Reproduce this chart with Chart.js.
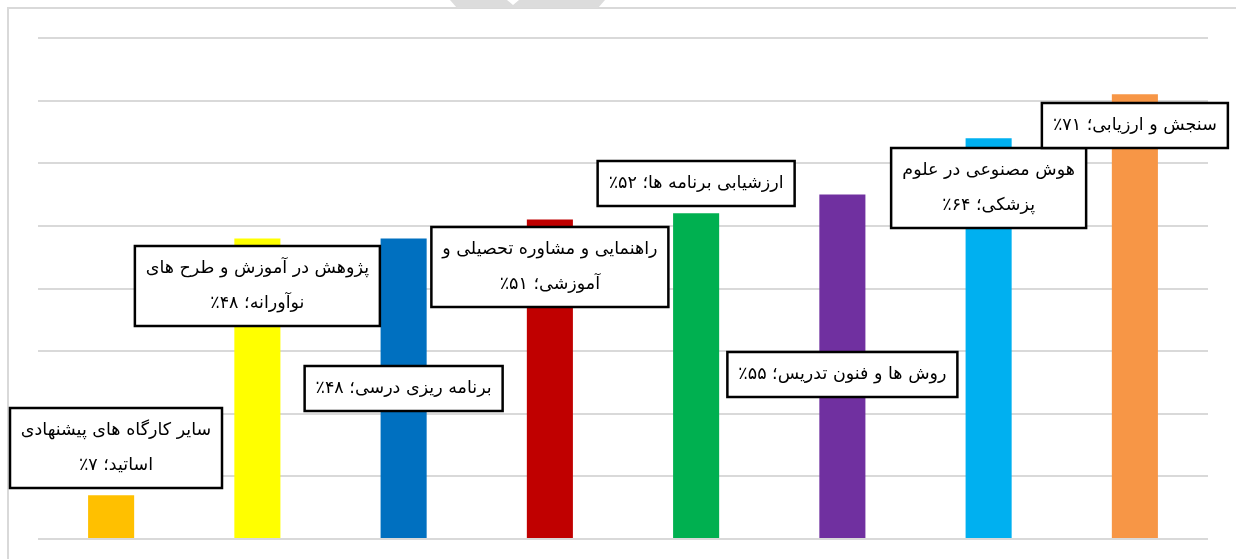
<!DOCTYPE html>
<html lang="fa">
<head>
<meta charset="utf-8">
<script src="https://cdn.jsdelivr.net/npm/chart.js@4.4.1/dist/chart.umd.min.js"></script>
<style>
    html, body { margin: 0; padding: 0; background: #fff; }
    #wrap { position: relative; width: 1236px; height: 559px; }
    /* قاب خاکستری دور نمودار */
    #frame { position: absolute; left: 7px; top: 7px; right: -4px; bottom: -4px; border: 2px solid #d9d9d9; }
    /* زبانه خاکستری بالای صفحه */
    #tab { position: absolute; left: 450px; top: 0; width: 155px; height: 8px; background: #dcdcdc;
           clip-path: polygon(0 0, 57px 0, 63px 5px, 69px 0, 155px 0, 148px 8px, 7px 8px); }
    canvas { position: absolute; left: 0; top: 0; }
</style>
</head>
<body>
<div id="wrap">
    <div id="frame"></div>
    <div id="tab"></div>
    <canvas id="myChart" width="1236" height="559"></canvas>
</div>
<script>
/*---------------------------------------------------------------*/
/*----------------------------- data ----------------------------*/
/*---------------------------------------------------------------*/
// نام کارگاه ها (هر خط برچسب یک عضو)
const categories = [
    ['سایر کارگاه های پیشنهادی', 'اساتید'],
    ['پژوهش در آموزش و طرح های', 'نوآورانه'],
    ['برنامه ریزی درسی'],
    ['راهنمایی و مشاوره تحصیلی و', 'آموزشی'],
    ['ارزشیابی برنامه ها'],
    ['روش ها و فنون تدریس'],
    ['هوش مصنوعی در علوم', 'پزشکی'],
    ['سنجش و ارزیابی']
];
const percents = [7, 48, 48, 51, 52, 55, 64, 71];
const barColors = ['#FFC000', '#FFFF00', '#0070C0', '#C00000', '#00B050', '#7030A0', '#00B0F0', '#F79646'];
const yTicks = [0, 10, 20, 30, 40, 50, 60, 70, 80];

// جای مرکز کادر برچسب روی محور y (بر حسب درصد)
const labelY = [14.5, 40.4, 24.0, 43.4, 56.8, 26.3, 56.0, 66.1];

/*---------------------------------------------------------------*/
/*--------------------------- labels ----------------------------*/
/*---------------------------------------------------------------*/
const faDigits = '۰۱۲۳۴۵۶۷۸۹';
function toFa(n) {
    return String(n).replace(/[0-9]/g, d => faDigits[d]);
}

function labelLines(i) {
    const lines = categories[i].slice();
    // عدد و بعد علامت درصد، تا مثل نمودار اصلی ٪ سمت چپ عدد بیفتد
    lines[lines.length - 1] = lines[lines.length - 1] + '؛ ' + toFa(percents[i]) + '٪';
    return lines;
}

const calloutPlugin = {
    id: 'callouts',
    afterDatasetsDraw(chart) {
        const ctx = chart.ctx;
        const meta = chart.getDatasetMeta(0);
        const yScale = chart.scales.y;
        const lineH = 35;
        const padX = 11;
        const padY = 5;

        ctx.save();
        ctx.font = '17.5px "DejaVu Sans"';
        ctx.direction = 'rtl';
        ctx.textAlign = 'center';
        ctx.textBaseline = 'middle';

        meta.data.forEach((bar, i) => {
            const lines = labelLines(i);
            let maxW = 0;
            lines.forEach(l => { maxW = Math.max(maxW, ctx.measureText(l).width); });
            const w = Math.round(maxW + padX * 2);
            const h = lines.length * lineH + padY * 2;
            const cy = yScale.getPixelForValue(labelY[i]);
            let left = bar.x - w / 2;
            left = Math.max(10, Math.min(left, chart.width - w - 8));
            const top = Math.round(cy - h / 2);

            ctx.fillStyle = '#ffffff';
            ctx.fillRect(left, top, w, h);
            ctx.lineWidth = 2.5;
            ctx.strokeStyle = '#000000';
            ctx.strokeRect(left, top, w, h);

            ctx.fillStyle = '#000000';
            lines.forEach((l, k) => {
                ctx.fillText(l, left + w / 2, top + padY + lineH * k + lineH / 2);
            });
        });
        ctx.restore();
    }
};

/*---------------------------------------------------------------*/
/*----------------------------- chart ---------------------------*/
/*---------------------------------------------------------------*/
const data = {
    labels: categories.map(c => c.join(' ')),
    datasets: [{
        data: percents,
        backgroundColor: barColors,
        borderWidth: 0,
        barPercentage: 0.315,
        categoryPercentage: 1
    }]
};

const config = {
    type: 'bar',
    data: data,
    options: {
        responsive: false,
        animation: false,
        layout: {
            padding: { left: 38, right: 28, top: 38, bottom: 20 }
        },
        plugins: {
            legend: { display: false },
            tooltip: { enabled: false }
        },
        scales: {
            x: {
                display: false
            },
            y: {
                min: yTicks[0],
                max: yTicks[yTicks.length - 1],
                afterBuildTicks: axis => {
                    axis.ticks = yTicks.map(v => ({ value: v }));
                },
                ticks: { display: false },
                border: { display: false },
                grid: {
                    color: '#d9d9d9',
                    lineWidth: 2,
                    drawTicks: false
                }
            }
        }
    },
    plugins: [calloutPlugin]
};

const myChart = new Chart(
    document.getElementById('myChart'),
    config
);
</script>
</body>
</html>
